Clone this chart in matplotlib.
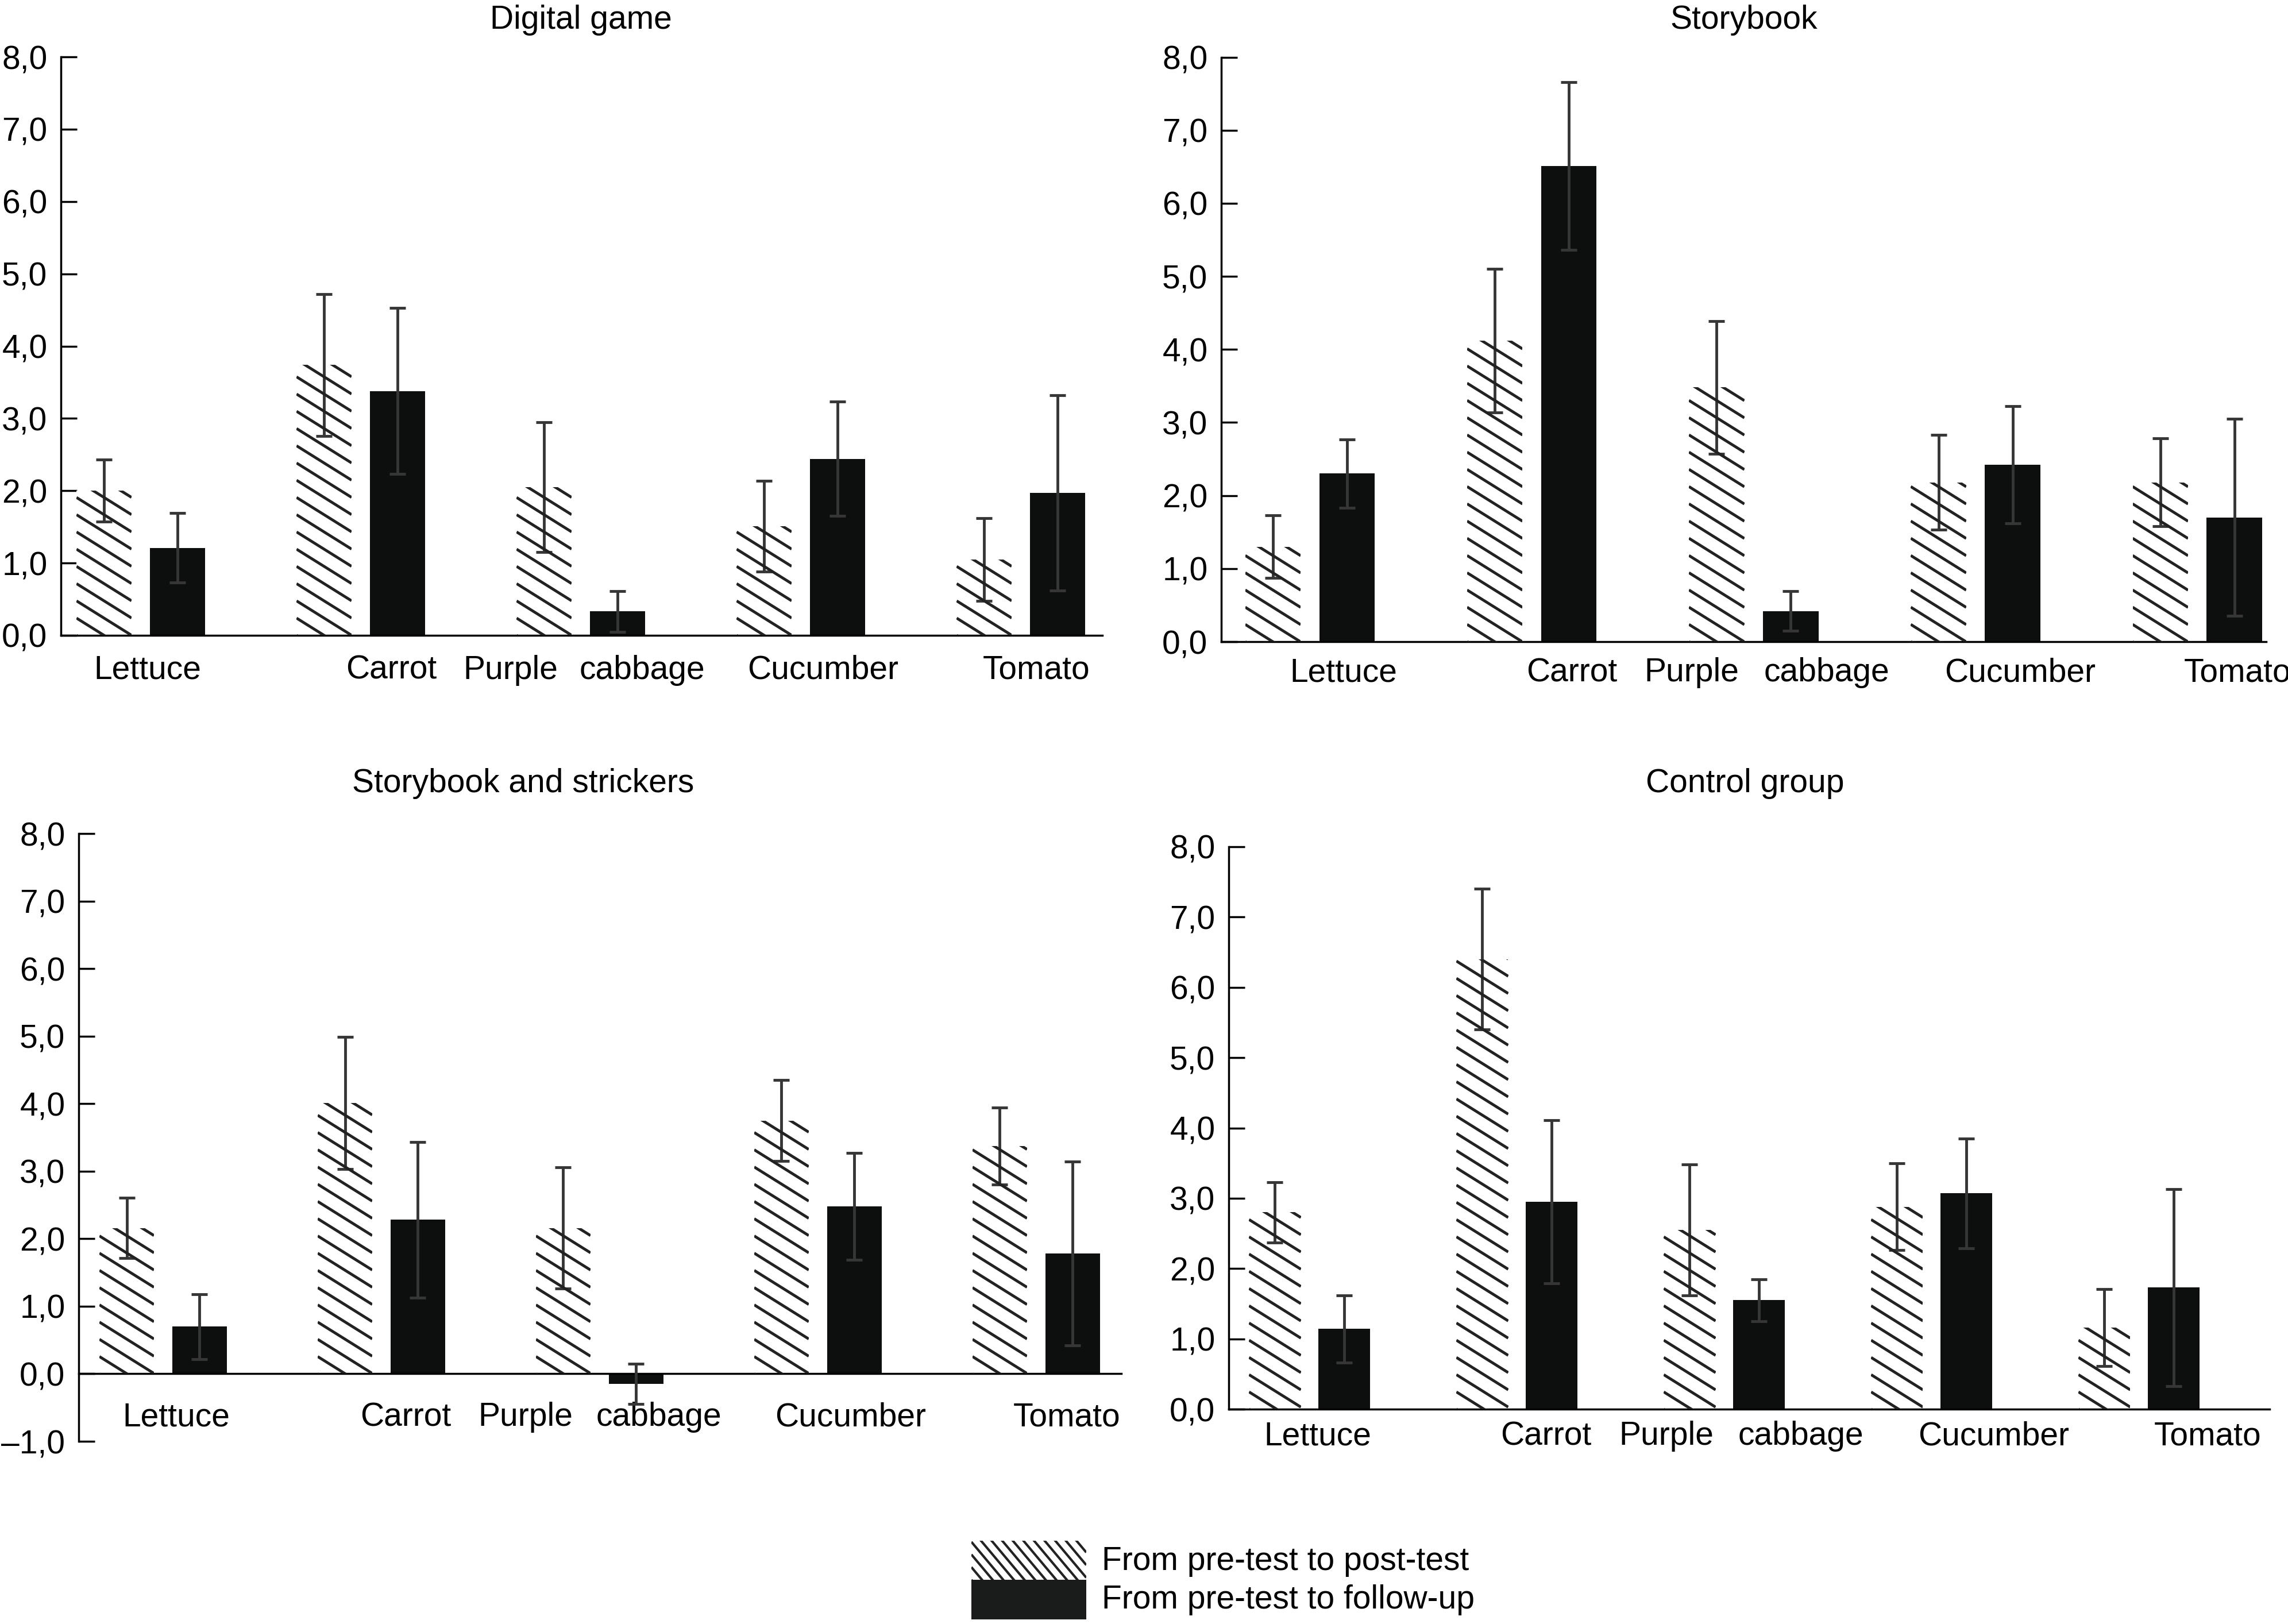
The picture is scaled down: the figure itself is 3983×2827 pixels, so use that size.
import numpy as np
import matplotlib.pyplot as plt
from matplotlib.lines import Line2D
from matplotlib.patches import Rectangle
from matplotlib.transforms import IdentityTransform

plt.rcParams['font.family'] = ['Liberation Sans', 'DejaVu Sans']
plt.rcParams['font.size'] = 41

# data (mean change and error) per group
vegetables = ['Lettuce', 'Carrot', 'Purple cabbage', 'Cucumber', 'Tomato']
tick_words = ['Lettuce', 'Carrot', 'Purple', 'cabbage', 'Cucumber', 'Tomato']
titles = ['Digital game', 'Storybook', 'Storybook and strickers', 'Control group']
legend_labels = ['From pre-test to post-test', 'From pre-test to follow-up']

post_digital = [2.0, 3.74, 2.05, 1.51, 1.05]
post_digital_err = [0.43, 0.98, 0.9, 0.63, 0.57]
follow_digital = [1.21, 3.38, 0.33, 2.44, 1.97]
follow_digital_err = [0.48, 1.15, 0.28, 0.79, 1.35]

post_story = [1.3, 4.12, 3.48, 2.18, 2.18]
post_story_err = [0.43, 0.98, 0.91, 0.65, 0.6]
follow_story = [2.3, 6.51, 0.42, 2.42, 1.7]
follow_story_err = [0.47, 1.15, 0.27, 0.8, 1.35]

post_sticker = [2.16, 4.01, 2.16, 3.75, 3.37]
post_sticker_err = [0.45, 0.98, 0.9, 0.6, 0.57]
follow_sticker = [0.7, 2.28, -0.15, 2.48, 1.78]
follow_sticker_err = [0.48, 1.15, 0.3, 0.79, 1.36]

post_control = [2.8, 6.4, 2.55, 2.88, 1.16]
post_control_err = [0.43, 1.0, 0.93, 0.62, 0.55]
follow_control = [1.14, 2.95, 1.55, 3.07, 1.73]
follow_control_err = [0.48, 1.16, 0.3, 0.78, 1.4]

W, H = 3983, 2827
fig = plt.figure(figsize=(W / 100, H / 100), dpi=100)

# layout in pixels: left, top, right, bottom of plot box
panels = [
    dict(post=post_digital, post_err=post_digital_err, fol=follow_digital, fol_err=follow_digital_err,
         box=(106, 99, 1919, 1106), ylim=(0, 8), xlim=(-0.363, 4.37),
         word_x=[0.03, 1.14, 1.68, 2.28, 3.10, 4.07], pad=34, title_xy=(1011, 50)),
    dict(post=post_story, post_err=post_story_err, fol=follow_story, fol_err=follow_story_err,
         box=(2126, 99.5, 3945, 1117), ylim=(0, 8), xlim=(-0.40, 4.31),
         word_x=[0.15, 1.18, 1.72, 2.33, 3.20, 4.18], pad=27, title_xy=(3036, 50)),
    dict(post=post_sticker, post_err=post_sticker_err, fol=follow_sticker, fol_err=follow_sticker_err,
         box=(137, 1451, 1952, 2509), ylim=(-1, 8), xlim=(-0.387, 4.39),
         word_x=[0.06, 1.11, 1.66, 2.27, 3.15, 4.14], pad=49, title_xy=(911, 1379)),
    dict(post=post_control, post_err=post_control_err, fol=follow_control, fol_err=follow_control_err,
         box=(2139, 1474, 3951, 2453), ylim=(0, 8), xlim=(-0.39, 4.63),
         word_x=[0.04, 1.14, 1.72, 2.37, 3.30, 4.33], pad=20, title_xy=(3038, 1379)),
]

HATCH_COL = '#222222'
BAR_COL = '#0d0f0f'
ERR_COL = '#363636'


def hatch_lines(patch, spacing=30, angle=32, lw=3.5):
    # diagonal lines (top-left to bottom-right) clipped to the patch, in pixels
    bb = patch.get_window_extent()
    k = np.tan(np.radians(angle))
    c = bb.y0
    while c < bb.y1 + bb.width * k + spacing:
        ln = Line2D([bb.x0, bb.x1], [c, c - bb.width * k], color=HATCH_COL, lw=lw,
                    solid_capstyle='butt', transform=IdentityTransform(), zorder=2.5)
        fig.add_artist(ln)
        ln.set_clip_path(patch)
        c += spacing


x = np.arange(len(vegetables))
off, bw = 0.167, 0.25

for p, title in zip(panels, titles):
    l, t, r, b = p['box']
    ax = fig.add_axes([l / W, 1 - b / H, (r - l) / W, (b - t) / H])
    ax.set_xlim(*p['xlim'])
    ax.set_ylim(*p['ylim'])

    hb = ax.bar(x - off, p['post'], bw, color='white', edgecolor='none', zorder=2)
    ax.bar(x + off, p['fol'], bw, color=BAR_COL, edgecolor='none', zorder=2)
    ax.errorbar(x - off, p['post'], yerr=p['post_err'], fmt='none', ecolor=ERR_COL,
                elinewidth=3.5, capsize=10, capthick=3.5, zorder=3)
    ax.errorbar(x + off, p['fol'], yerr=p['fol_err'], fmt='none', ecolor=ERR_COL,
                elinewidth=3.5, capsize=10, capthick=3.5, zorder=3)
    for patch in hb:
        hatch_lines(patch)

    for s in ['top', 'right']:
        ax.spines[s].set_visible(False)
    ax.spines['bottom'].set_position(('data', 0))
    for s in ['left', 'bottom']:
        ax.spines[s].set_linewidth(2.5)
        ax.spines[s].set_color('black')

    yt = np.arange(p['ylim'][0], p['ylim'][1] + 1)
    ax.set_yticks(yt)
    ax.set_yticklabels([('–%.1f' % -v if v < 0 else '%.1f' % v).replace('.', ',') for v in yt])
    ax.tick_params(axis='y', direction='in', length=20, width=2.5, pad=17)

    ax.set_xticks(p['word_x'])
    ax.set_xticklabels(tick_words)
    ax.tick_params(axis='x', length=0, pad=p['pad'] * 0.72)

    fig.text(p['title_xy'][0] / W, 1 - p['title_xy'][1] / H, title,
             ha='center', va='baseline')

# legend at the bottom
lx, lw_ = 1691 / W, 200 / W
r1 = Rectangle((lx, 1 - 2750 / H), lw_, 68 / H, transform=fig.transFigure,
               facecolor='white', edgecolor='none')
r2 = Rectangle((lx, 1 - 2819 / H), lw_, 69 / H, transform=fig.transFigure,
               facecolor='#1a1c1c', edgecolor='none')
fig.add_artist(r1)
fig.add_artist(r2)
hatch_lines(r1, spacing=22, angle=50, lw=3.0)
fig.text(1918 / W, 1 - 2718 / H, legend_labels[0], ha='left', va='center')
fig.text(1918 / W, 1 - 2785 / H, legend_labels[1], ha='left', va='center')

fig.savefig('out.png', dpi=100)
